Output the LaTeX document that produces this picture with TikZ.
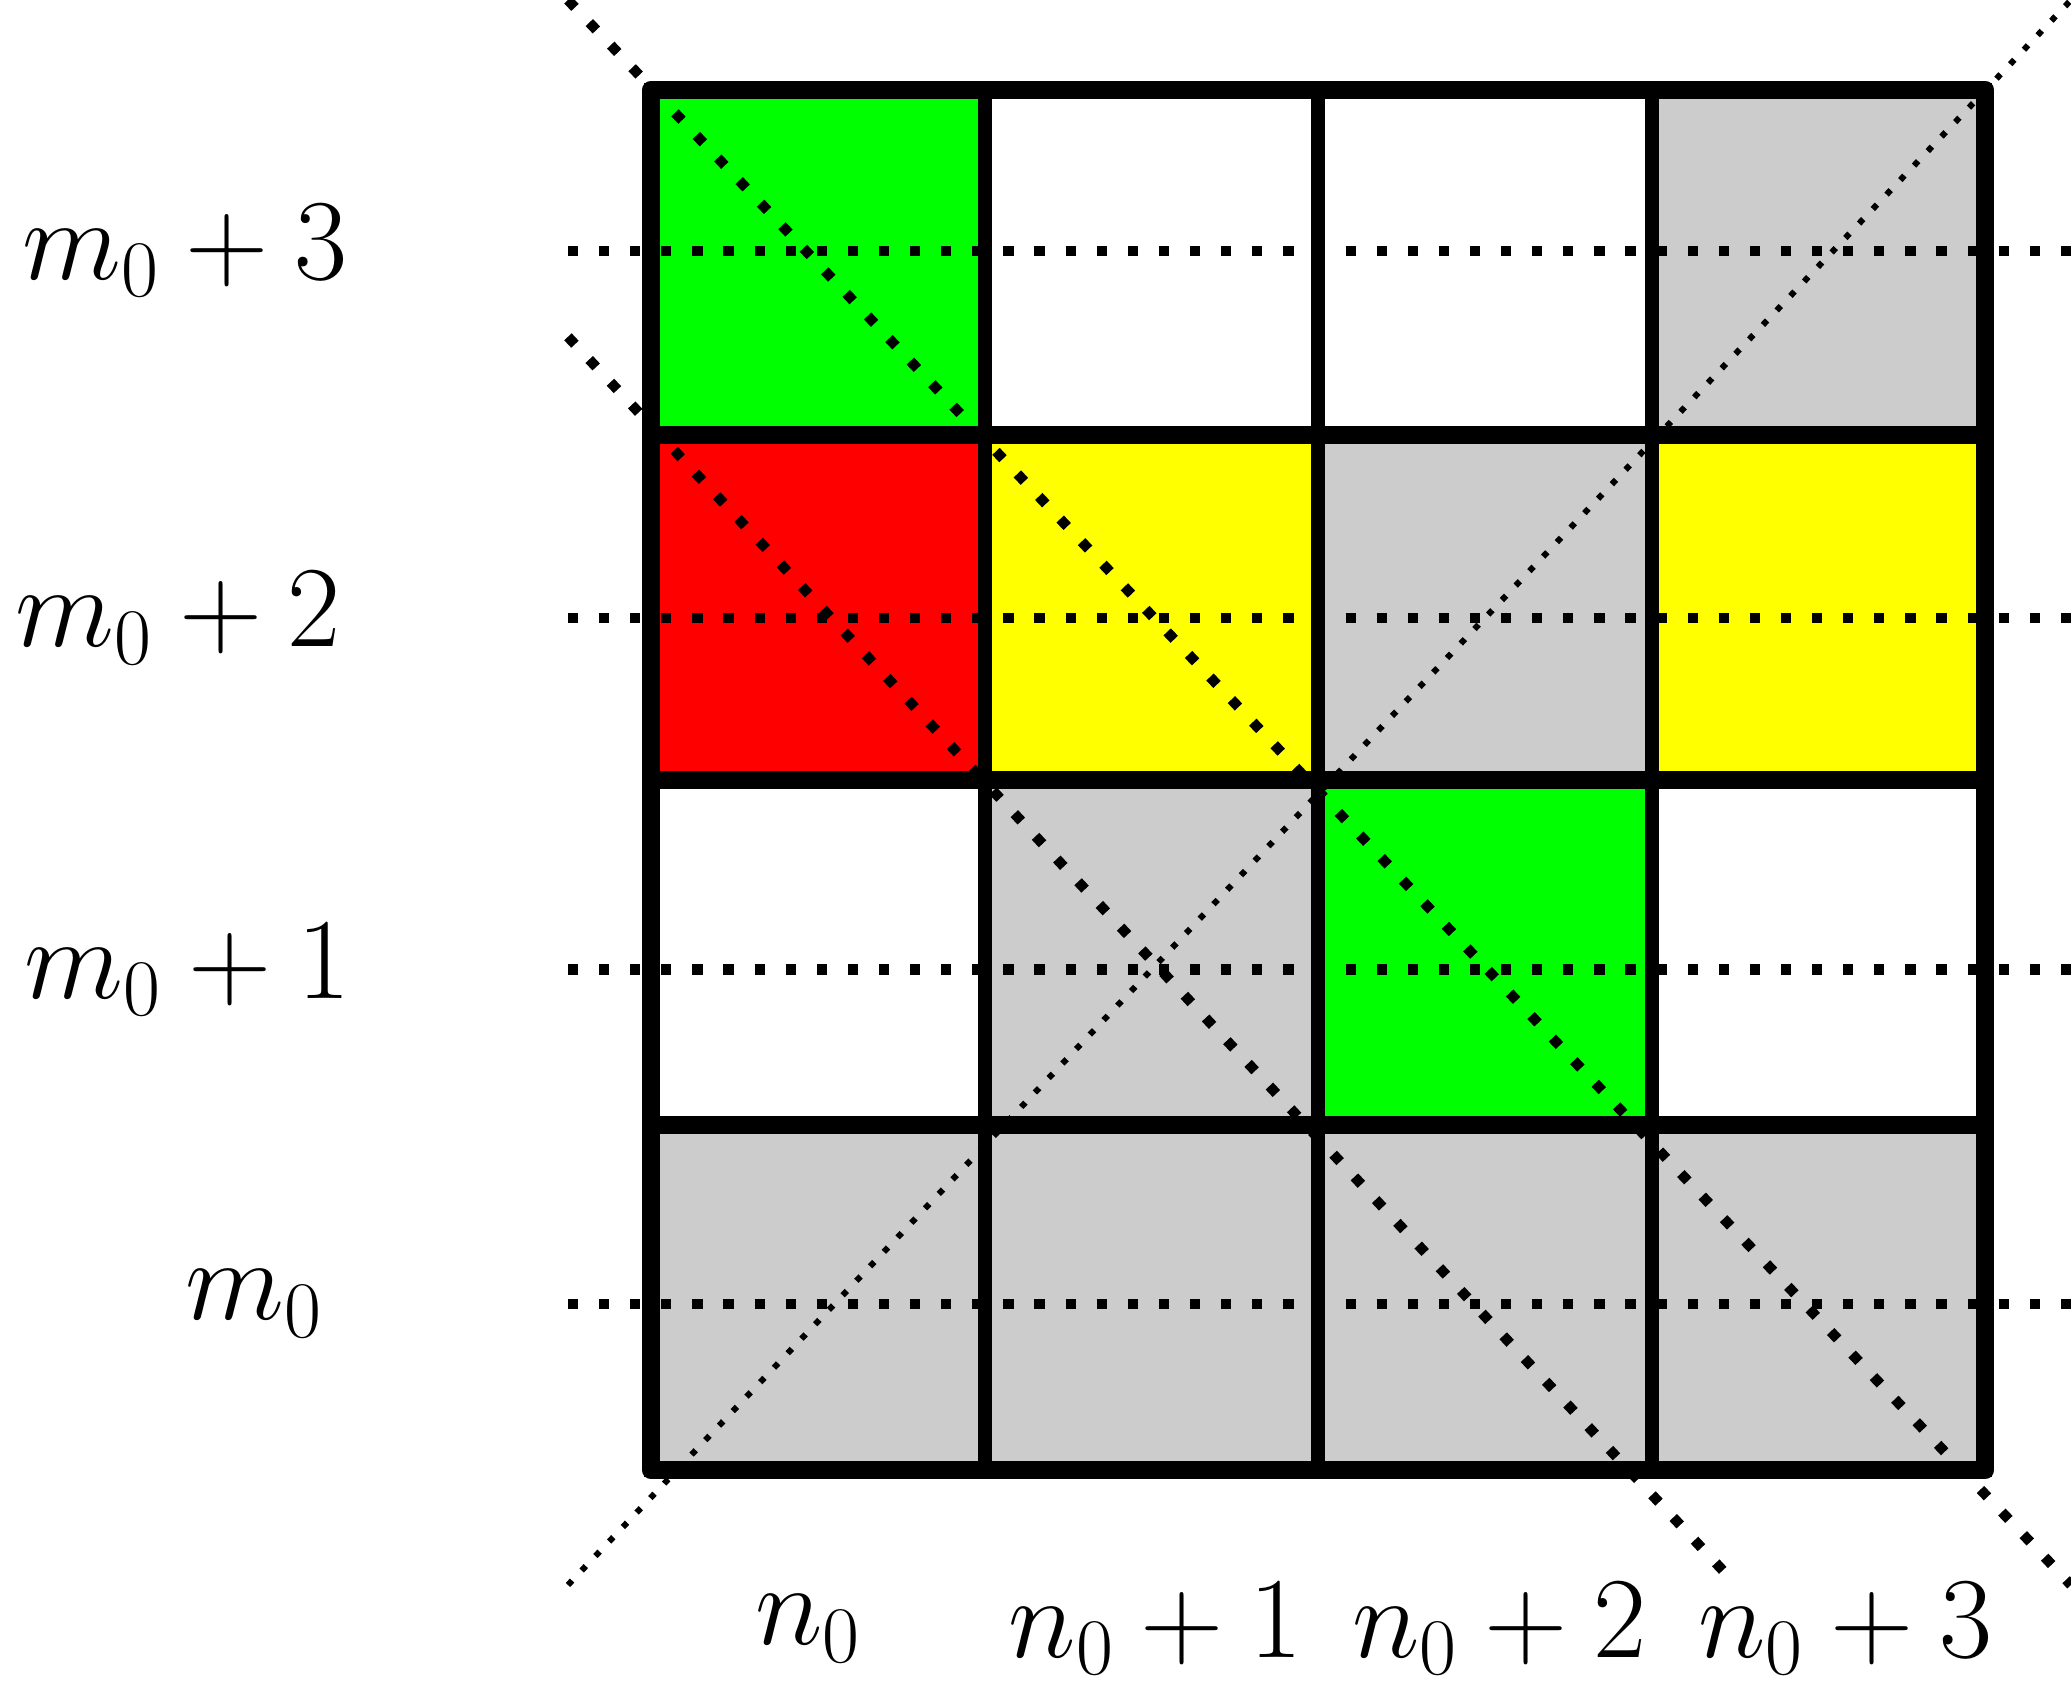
\documentclass[tikz,border=0pt]{standalone}
\usepackage{xcolor}
\usepackage{amsmath}
\definecolor{cellgray}{gray}{0.8}
\definecolor{cellyellow}{rgb}{1,1,0}
\tikzset{
  bigdots/.style={line width=2.2pt, dash pattern=on 2.2pt off 4.5pt},
  smalldots/.style={line width=1.3pt, dash pattern=on 1.3pt off 3pt},
  cellbox/.style={line width=3pt},
  rowbox/.style={line width=4pt, line join=round},
  lab/.style={font=\fontsize{25}{29}\selectfont}
}
\begin{document}
\begin{tikzpicture}
  \useasboundingbox (0,0) rectangle (15.68,-12.76);
  % Cells (row from top, column, colour)
  \foreach \r/\c/\col in {0/0/green,0/1/white,0/2/white,0/3/cellgray,
                          1/0/red,1/1/cellyellow,1/2/cellgray,1/3/cellyellow,
                          2/0/white,2/1/cellgray,2/2/green,2/3/white,
                          3/0/cellgray,3/1/cellgray,3/2/cellgray,3/3/cellgray}
    \fill[\col] (4.93+2.525*\c,-0.68-2.6125*\r) rectangle ++(2.525,-2.6125);
  % Dotted guides
  \foreach \y in {1.90,4.68,7.34,9.87}
    \draw[bigdots] (4.30,-\y) -- (15.68,-\y);
  \draw[bigdots] (4.30,0) -- (15.68,-12.0);
  \draw[bigdots] (4.30,-2.55) -- (13.1,-11.95);
  \draw[smalldots] (4.30,-12.0) -- (15.68,0);
  % Cell borders
  \foreach \r in {0,...,3}{
    \foreach \c in {0,...,3}
      \draw[cellbox] (4.93+2.525*\c,-0.68-2.6125*\r) rectangle ++(2.525,-2.6125);
    \draw[rowbox] (4.93,-0.68-2.6125*\r) rectangle ++(10.1,-2.6125);
  }
  % Labels
  \node[lab] (m3) at (1.40,-1.90) {$m_0+3$};
  \node[lab] (m2) at (1.35,-4.68) {$m_0+2$};
  \node[lab] (m1) at (1.42,-7.34) {$m_0+1$};
  \node[lab] (m0) at (1.93,-9.87) {$m_0$};
  \node[lab] (n0) at (6.12,-12.33) {$n_0$};
  \node[lab] (n1) at (8.75,-12.33) {$n_0+1$};
  \node[lab] (n2) at (11.35,-12.33) {$n_0+2$};
  \node[lab] (n3) at (13.97,-12.33) {$n_0+3$};
\end{tikzpicture}
\end{document}
